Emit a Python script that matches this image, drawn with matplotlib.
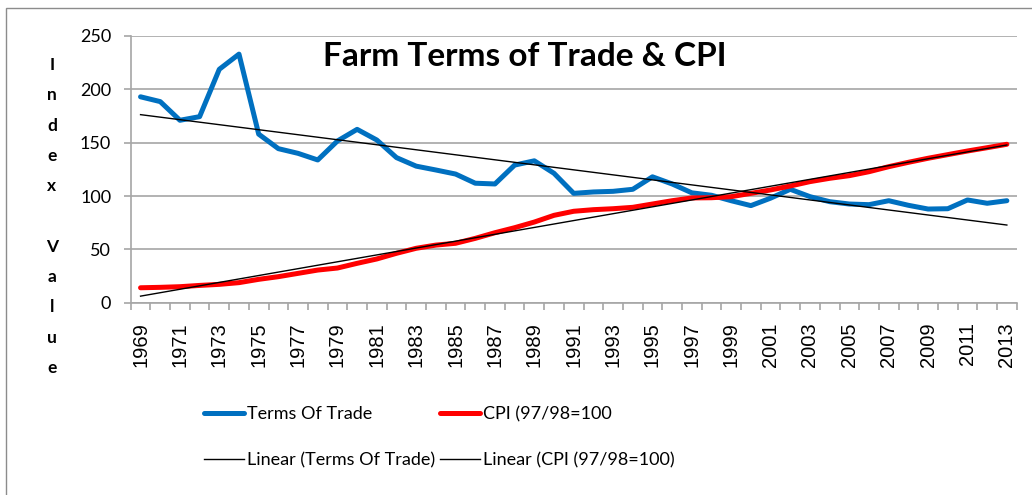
import numpy as np
import matplotlib
matplotlib.use("Agg")
import matplotlib.pyplot as plt
from matplotlib.patches import Rectangle

years = list(range(1969, 2014))
terms_of_trade = [193, 188.5, 171, 174.4, 218.8, 233, 158, 144.4, 140, 133.8,
                  151.6, 162.5, 152.5, 136, 128, 124.4, 120.6, 112, 111.3, 129,
                  133, 121.3, 102.5, 103.8, 104.4, 106.3, 118, 111.3, 103, 100.7,
                  95.6, 91, 98, 106.3, 99.4, 94.7, 92.5, 91.9, 95.6, 91.3,
                  87.8, 88.1, 96.3, 93.2, 95.6]
cpi = [14, 14.4, 15, 16.2, 17.2, 18.8, 21.9, 24.4, 27.5, 30.6,
       32.5, 36.9, 41, 46.3, 51, 54, 55.7, 60.3, 65.6, 70.3,
       75.6, 81.9, 85.7, 87.2, 88.1, 89.4, 92.5, 95.6, 98.2, 98.4,
       99.4, 102.5, 105.7, 109.4, 113.5, 116.6, 119.1, 122.8, 127.5, 131.6,
       135.4, 138.8, 142.2, 145.3, 148.5]
labels = ["Terms Of Trade", "CPI (97/98=100",
          "Linear (Terms Of Trade)", "Linear (CPI (97/98=100)"]
title = "Farm Terms of Trade & CPI"
ylabel_letters = ["I", "n", "d", "e", "x", "", "V", "a", "l", "u", "e"]
yticks = [0, 50, 100, 150, 200, 250]

FONT = ["Lato", "DejaVu Sans"]
TICKFONT = ["Liberation Sans", "DejaVu Sans"]
plt.rcParams['font.family'] = FONT

W, H = 1032, 495
fig = plt.figure(figsize=(W / 100, H / 100), dpi=100)
fig.patch.set_facecolor("white")

# outer chart border (left/top visible)
fig.patches.append(Rectangle((6 / W, -0.2), 2.0, 1 - 8 / H + 0.2,
                             transform=fig.transFigure, fill=False,
                             edgecolor="#8c8c8c", linewidth=1.0))

ax = fig.add_axes([130.7 / W, 1 - 302.7 / H, (1016.7 - 130.7) / W,
                   (302.7 - 36) / H])

x = np.array(years, dtype=float)
tot = np.array(terms_of_trade)
cp = np.array(cpi)

l1, = ax.plot(x, tot, color="#0070C0", lw=3.6, solid_joinstyle="round",
              solid_capstyle="round", zorder=3)
l2, = ax.plot(x, cp, color="#FF0000", lw=3.6, solid_joinstyle="round",
              solid_capstyle="round", zorder=3)
p1 = np.polyfit(x, tot, 1)
p2 = np.polyfit(x, cp, 1)
l3, = ax.plot(x, np.polyval(p1, x), color="black", lw=1.0, zorder=4)
l4, = ax.plot(x, np.polyval(p2, x), color="black", lw=1.0, zorder=4)

ax.set_xlim(years[0] - 0.5, years[-1] + 0.5)
ax.set_ylim(0, 250)
ax.set_yticks(yticks)
ax.set_yticklabels([str(v) for v in yticks], fontsize=13)
ax.yaxis.grid(True, color="#a6a6a6", lw=1.2)
ax.set_axisbelow(True)
for s in ["top", "right"]:
    ax.spines[s].set_visible(False)
for s in ["left", "bottom"]:
    ax.spines[s].set_color("#a6a6a6")
    ax.spines[s].set_linewidth(1.2)
ax.tick_params(axis="y", length=5, color="#a6a6a6", width=1.2, pad=9)

ax.set_xticks(years[::2])
ax.set_xticklabels([str(y) for y in years[::2]], rotation=90,
                   fontsize=14.5, family=TICKFONT)
ax.set_xticks(np.arange(years[0] - 0.5, years[-1] + 1.0, 1.0), minor=True)
ax.tick_params(axis="x", which="major", length=0, pad=14)
ax.tick_params(axis="x", which="minor", length=5, color="#a6a6a6", width=1.2)

fig.text(525 / W, 1 - 56 / H, title, fontsize=24, fontweight="bold",
         ha="center", va="center")

# vertical stacked y-axis label
for i, ch in enumerate(ylabel_letters):
    if ch:
        fig.text(52 / W, 1 - (65 + i * 30.3) / H, ch, fontsize=12.5,
                 fontweight="bold", ha="center", va="center")

leg = fig.legend([l1, l3, l2, l4], [labels[0], labels[2], labels[1], labels[3]],
                 ncol=2, loc="upper left",
                 bbox_to_anchor=(204 / W, 1 - 406 / H),
                 frameon=False, fontsize=13, handlelength=2.2,
                 handletextpad=0.2, columnspacing=0.25, labelspacing=1.66,
                 borderpad=0, borderaxespad=0)

fig.savefig("out.png", dpi=100)
